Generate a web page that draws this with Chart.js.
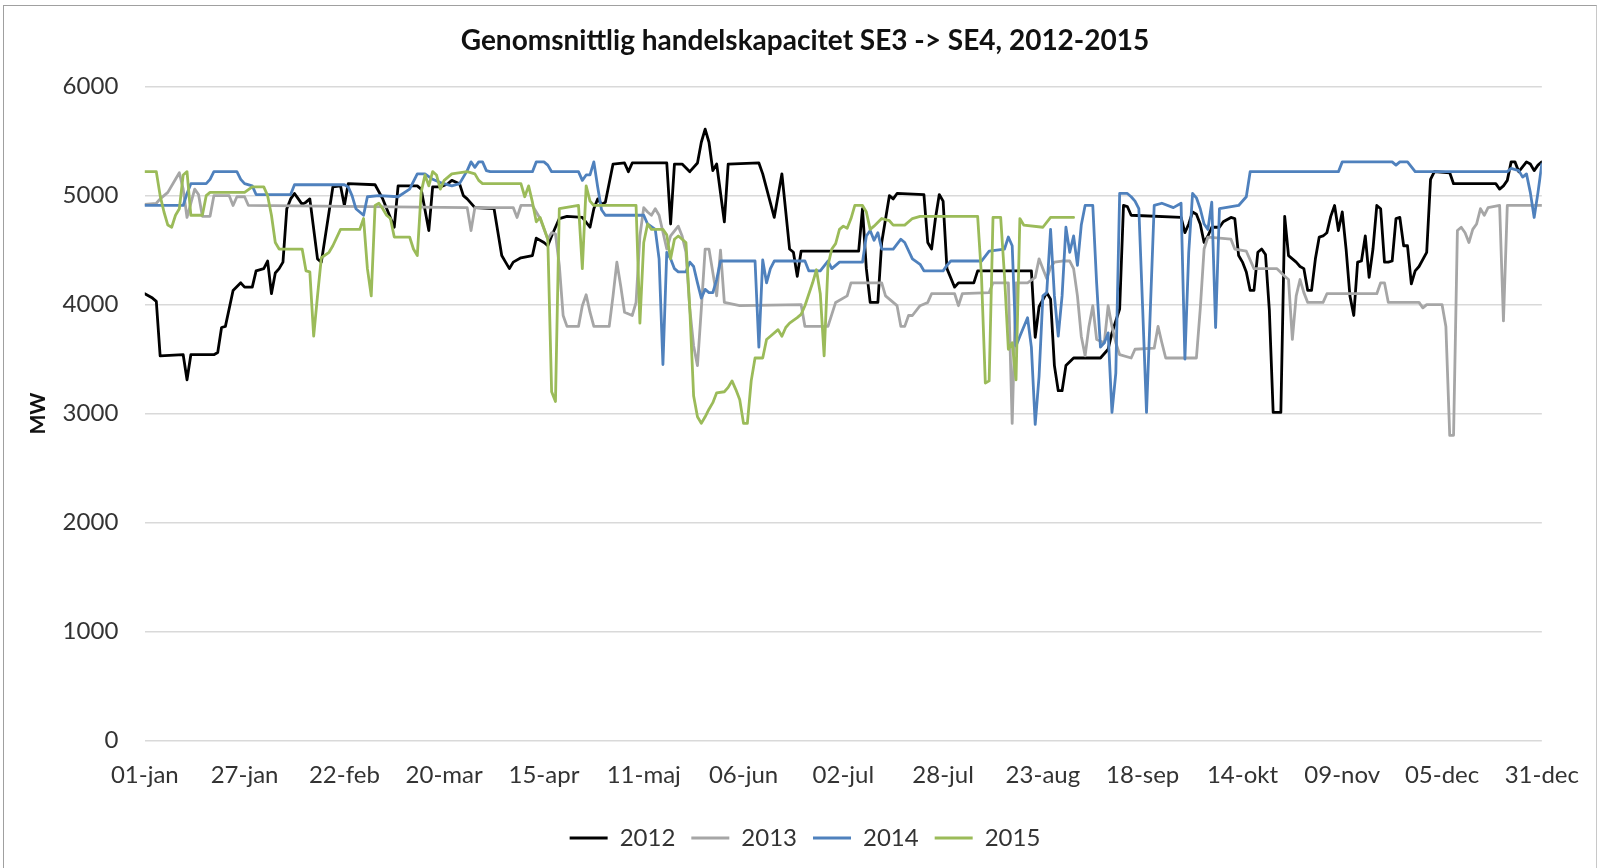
<!DOCTYPE html>
<html>
<head>
<meta charset="utf-8">
<script src="https://cdn.jsdelivr.net/npm/chart.js@4.4.1/dist/chart.umd.min.js"></script>
<style>
  html, body { margin: 0; padding: 0; background: #fff; }
  #wrap { position: relative; width: 1599px; height: 868px; }
  #frame { position: absolute; left: 3px; top: 5px; width: 1592px; height: 870px;
           border-top: 1px solid #a0a0a0; border-left: 1px solid #a0a0a0; border-right: 1px solid #c8c8c8;
           pointer-events: none; }
</style>
</head>
<body>
<div id="wrap">
  <canvas id="capChart" width="1599" height="868"></canvas>
  <div id="frame"></div>
</div>
<script>
// tick labels on the day axis (day index from 01-jan)
const tickDays = [0, 26, 52, 78, 104, 130, 156, 182, 208, 234, 260, 286, 312, 338, 364];
const tickLabels = ["01-jan", "27-jan", "22-feb", "20-mar", "15-apr", "11-maj", "06-jun", "02-jul",
  "28-jul", "23-aug", "18-sep", "14-okt", "09-nov", "05-dec", "31-dec"];

const years = ["2012", "2013", "2014", "2015"];
const colors = ["#000000", "#a6a6a6", "#4f81bd", "#9bbb59"];

// [day, MW], change points only
const s2012 = [[0,4100],[2,4060],[3,4030],[4,3530],[10,3540],[11,3310],[12,3540],[18,3540],[19,3560],[20,3790],
  [21,3800],[23,4130],[25,4200],[26,4160],[28,4160],[29,4310],[31,4330],[32,4400],[33,4100],[34,4290],
  [35,4330],[36,4390],[37,4880],[38,4970],[39,5020],[40,4970],[41,4920],[42,4940],[43,4970],[45,4420],
  [46,4390],[49,5080],[51,5090],[52,4910],[53,5110],[60,5100],[62,4970],[65,4710],[66,5090],[71,5090],
  [72,5060],[74,4680],[75,5080],[77,5080],[79,5110],[80,5140],[82,5110],[83,5000],[84,4970],[86,4890],
  [91,4880],[93,4450],[94,4390],[95,4330],[96,4390],[98,4430],[101,4450],[102,4610],[104,4570],[105,4540],
  [106,4630],[108,4790],[110,4810],[114,4800],[116,4710],[117,4880],[118,4970],[119,4920],[120,4940],[122,5290],
  [125,5300],[126,5220],[127,5300],[136,5300],[137,4740],[138,5290],[140,5290],[142,5220],[144,5300],[145,5490],
  [146,5610],[147,5490],[148,5230],[149,5290],[151,4760],[152,5290],[160,5300],[161,5200],[164,4800],[166,5200],
  [168,4510],[169,4480],[170,4260],[171,4490],[186,4490],[187,4880],[188,4330],[189,4020],[191,4020],[192,4570],
  [194,5000],[195,4970],[196,5020],[203,5010],[204,4570],[205,4510],[206,4790],[207,5010],[208,4950],[209,4330],
  [211,4160],[212,4200],[216,4200],[217,4310],[231,4310],[232,3700],[233,3980],[235,4110],[236,4050],[237,3440],
  [238,3210],[239,3210],[240,3440],[242,3510],[249,3510],[251,3590],[252,3740],[254,3960],[255,4910],[256,4900],
  [257,4820],[270,4800],[271,4660],[272,4740],[273,4850],[274,4830],[275,4740],[276,4570],[277,4630],[278,4710],
  [280,4710],[281,4760],[283,4800],[284,4790],[285,4450],[286,4390],[287,4300],[288,4130],[289,4130],[290,4480],
  [291,4510],[292,4460],[293,3950],[294,3010],[296,3010],[297,4810],[298,4450],[300,4390],[301,4350],[302,4330],
  [303,4130],[304,4130],[305,4420],[306,4620],[307,4630],[308,4660],[309,4810],[310,4910],[311,4680],[312,4850],
  [313,4510],[314,4080],[315,3900],[316,4390],[317,4400],[318,4630],[319,4250],[320,4510],[321,4910],[322,4880],
  [323,4390],[324,4390],[325,4400],[326,4790],[327,4800],[328,4540],[329,4540],[330,4190],[331,4310],[332,4350],
  [334,4480],[335,5150],[336,5220],[340,5210],[341,5110],[352,5110],[353,5060],[354,5090],[355,5140],[356,5310],
  [357,5310],[358,5220],[360,5310],[361,5290],[362,5230],[363,5280],[364,5310]];

const s2013 = [[0,4920],[3,4930],[4,4970],[6,5030],[8,5150],[9,5210],[10,5060],[11,4800],[13,5060],[14,5010],
  [15,4810],[17,4810],[18,5000],[22,5000],[23,4910],[24,4990],[26,4990],[27,4910],[84,4890],
  [85,4680],[86,4890],[96,4890],[97,4800],[98,4910],[101,4910],[102,4850],
  [103,4790],[105,4600],[106,4660],[107,4650],[108,4360],[109,3900],[110,3800],[113,3800],[114,3990],[115,4090],
  [116,3930],[117,3800],[121,3800],[122,4080],[123,4390],[124,4170],[125,3930],[127,3900],[128,4020],[129,4630],
  [130,4890],[131,4850],[132,4820],[133,4880],[134,4820],[136,4510],[137,4630],[139,4720],[140,4630],[141,4480],
  [142,3960],[143,3620],[144,3440],[145,3960],[146,4510],[147,4510],[149,4080],[150,4500],[151,4020],[155,3990],
  [171,4000],[172,3800],[178,3800],[179,3910],[180,4020],[183,4080],[184,4200],[192,4200],[193,4080],[196,3990],
  [197,3800],[198,3800],[199,3900],[200,3900],[202,3990],[204,4020],[205,4100],[211,4100],[212,3990],[213,4100],
  [220,4110],[221,4200],[225,4200],[226,2910],[227,4200],[230,4200],[232,4250],[233,4420],[234,4330],[235,4240],
  [236,4340],[237,4390],[239,4400],[241,4400],[242,4330],[243,4080],[244,3710],[245,3530],[246,3800],[247,3990],
  [248,3680],[250,3650],[251,3990],[252,3800],[253,3650],[254,3540],[257,3510],[258,3590],[263,3600],[264,3800],
  [265,3650],[266,3510],[274,3510],[275,3960],[276,4510],[277,4620],[283,4600],[284,4510],[287,4490],[289,4330],
  [295,4330],[297,4260],[298,4230],[299,3680],[300,4080],[301,4230],[302,4110],[303,4020],[307,4020],[308,4100],
  [321,4100],[322,4200],[323,4200],[324,4020],[332,4020],[333,3970],[334,4000],[338,4000],[339,3800],[340,2800],
  [341,2800],[342,4680],[343,4710],[344,4660],[345,4570],[346,4690],[347,4740],[348,4880],[349,4820],[350,4890],
  [353,4910],[354,3850],[355,4910],[364,4910]];

const s2014 = [[0,4910],[10,4910],[11,5020],[12,5110],[16,5110],[17,5150],[18,5220],[24,5220],[25,5150],[26,5110],
  [28,5090],[29,5010],[38,5010],[39,5100],[52,5100],[53,5080],[54,5000],[55,4880],[57,4820],[58,4990],
  [61,5000],[66,4990],[69,5060],[71,5200],[73,5200],[75,5150],[77,5120],[80,5090],[82,5110],[84,5230],
  [85,5310],[86,5260],[87,5310],[88,5310],[89,5230],[90,5220],[101,5220],[102,5310],[104,5310],[105,5280],
  [106,5220],[113,5220],[114,5140],[115,5190],[116,5190],[117,5310],[118,5080],[119,4870],[120,4820],[130,4820],
  [131,4740],[133,4690],[134,4420],[135,3450],[136,4480],[137,4420],[138,4330],[139,4300],[141,4300],[142,4390],
  [143,4350],[144,4200],[145,4060],[146,4140],[147,4110],[148,4110],[149,4230],[150,4400],[159,4400],[160,3610],
  [161,4410],[162,4200],[163,4330],[164,4400],[172,4400],[173,4310],[176,4310],[178,4400],[179,4330],[181,4390],
  [187,4390],[188,4630],[189,4680],[190,4590],[191,4660],[192,4510],[195,4510],[197,4600],[198,4570],[200,4420],
  [202,4370],[203,4310],[208,4310],[209,4360],[210,4400],[218,4400],[220,4490],[224,4510],[225,4620],[226,4540],
  [227,3620],[228,3710],[230,3880],[231,3610],[232,2900],[233,3340],[234,4080],[235,4110],[236,4690],[237,4080],
  [238,3710],[239,4080],[240,4710],[241,4480],[242,4630],[243,4360],[244,4730],[245,4910],[247,4910],[248,4200],
  [249,3610],[250,3650],[251,3740],[252,3010],[253,3370],[254,5020],[256,5020],[257,4990],[258,4950],[259,4880],
  [260,3960],[261,3010],[262,3960],[263,4910],[265,4930],[268,4890],[270,4930],[271,3500],[272,4480],[273,5020],
  [274,4980],[275,4880],[276,4740],[277,4690],[278,4940],[279,3790],[280,4880],[285,4910],[287,4990],[288,5220],
  [311,5220],[312,5310],[325,5310],[326,5280],[327,5310],[329,5310],[331,5220],[355,5220],[356,5250],[358,5230],
  [359,5170],[360,5200],[361,5030],[362,4800],[363,5030],[364,5290]];

const s2015 = [[0,5220],[3,5220],[4,5000],[5,4850],[6,4730],[7,4710],[8,4820],[9,4880],[10,5190],[11,5220],
  [12,4820],[15,4820],[16,5000],[17,5030],[26,5030],[28,5080],[31,5080],[32,5000],[33,4820],[34,4570],
  [35,4510],[41,4510],[42,4310],[43,4300],[44,3710],[45,4080],[46,4430],[48,4480],[49,4540],[51,4690],
  [56,4690],[57,4790],[58,4330],[59,4080],[60,4910],[61,4930],[62,4880],[63,4820],[64,4790],[65,4620],
  [69,4620],[70,4510],[71,4450],[72,5030],[73,5190],[74,5090],[75,5220],[76,5190],[77,5060],[78,5140],
  [80,5200],[84,5220],[86,5200],[87,5140],[88,5110],[98,5110],[99,4990],[100,5090],[101,4940],[102,4760],
  [103,4800],[104,4700],[105,4600],[106,3200],[107,3110],[108,4880],[113,4910],[114,4330],[115,5090],[116,4950],
  [117,4910],[128,4910],[129,3830],[130,4570],[131,4740],[132,4690],[135,4690],[136,4640],[137,4420],[138,4600],
  [139,4630],[141,4570],[142,3960],[143,3160],[144,2970],[145,2910],[146,2970],[147,3040],[148,3100],[149,3190],
  [151,3200],[152,3240],[153,3300],[154,3220],[155,3130],[156,2910],[157,2910],[158,3300],[159,3510],[161,3510],
  [162,3680],[163,3710],[165,3770],[166,3710],[167,3790],[168,3830],[170,3880],[171,3910],[172,3990],[174,4200],
  [175,4320],[176,4100],[177,3530],[178,4360],[179,4510],[180,4560],[181,4690],[182,4720],[183,4700],[184,4790],
  [185,4910],[187,4910],[188,4850],[189,4690],[190,4720],[192,4790],[194,4770],[195,4730],[198,4730],[200,4790],
  [202,4810],[217,4810],[218,4260],[219,3280],[220,3300],[221,4800],[223,4800],[224,4260],[225,3590],[226,3650],
  [227,3310],[228,4790],[229,4730],[234,4710],[236,4800],[242,4800]];

const series = [s2012, s2013, s2014, s2015];

const ctx = document.getElementById("capChart").getContext("2d");

Chart.defaults.font.family = "Lato, 'Open Sans', sans-serif";
Chart.defaults.color = "#333333";

new Chart(ctx, {
  type: "line",
  data: {
    datasets: years.map((y, i) => ({
      label: y,
      data: series[i].map(p => ({ x: p[0], y: p[1] })),
      borderColor: colors[i],
      backgroundColor: colors[i],
      borderWidth: 2.8,
      pointRadius: 0,
      tension: 0,
      borderJoinStyle: "round",
      borderCapStyle: "round",
      order: 3 - i,
    }))
  },
  options: {
    responsive: false,
    animation: false,
    devicePixelRatio: 1,
    // left/right padding keeps title and legend centred the way the original is
    layout: { padding: { left: 11, right: 0, top: 0, bottom: 8 } },
    plugins: {
      tooltip: { enabled: false },
      title: {
        display: true,
        text: "Genomsnittlig handelskapacitet SE3 -> SE4, 2012-2015",
        color: "#111111",
        font: { size: 28, weight: "bold" },
        padding: { top: 24.2, bottom: 28.9 }
      },
      legend: {
        position: "bottom",
        labels: {
          font: { size: 24 },
          color: "#333333",
          boxWidth: 38,
          boxHeight: 3,
          padding: 16,
          sort: (a, b) => a.datasetIndex - b.datasetIndex,
          generateLabels: (chart) =>
            Chart.defaults.plugins.legend.labels.generateLabels(chart).map(l => ({ ...l, lineWidth: 0 }))
        }
      }
    },
    scales: {
      x: {
        type: "linear",
        min: 0,
        max: 364,
        afterBuildTicks: (scale) => { scale.ticks = tickDays.map(v => ({ value: v })); },
        afterFit: (scale) => { scale.height = 69.6; },
        ticks: {
          autoSkip: false,
          maxRotation: 0,
          padding: 20,
          font: { size: 24 },
          color: "#333333",
          callback: (v) => tickLabels[tickDays.indexOf(v)]
        },
        grid: { display: false, drawTicks: false },
        border: { display: false }
      },
      y: {
        min: 0,
        max: 6000,
        afterFit: (scale) => { scale.width = 133.8; },
        ticks: {
          stepSize: 1000,
          padding: 26.5,
          font: { size: 24 },
          color: "#333333",
          callback: (v) => String(v)
        },
        grid: { color: "#d9d9d9", lineWidth: 1.5, drawTicks: false },
        border: { display: false },
        title: {
          display: true,
          text: "MW",
          color: "#111111",
          font: { size: 21, weight: "bold" },
          padding: { top: 14.4, bottom: 0 }
        }
      },
      // empty right axis, only reserves the blank strip right of the plot
      yRight: {
        position: "right",
        afterFit: (scale) => { scale.width = 57; },
        ticks: { display: false },
        grid: { display: false, drawTicks: false },
        border: { display: false }
      }
    }
  }
});
</script>
</body>
</html>
